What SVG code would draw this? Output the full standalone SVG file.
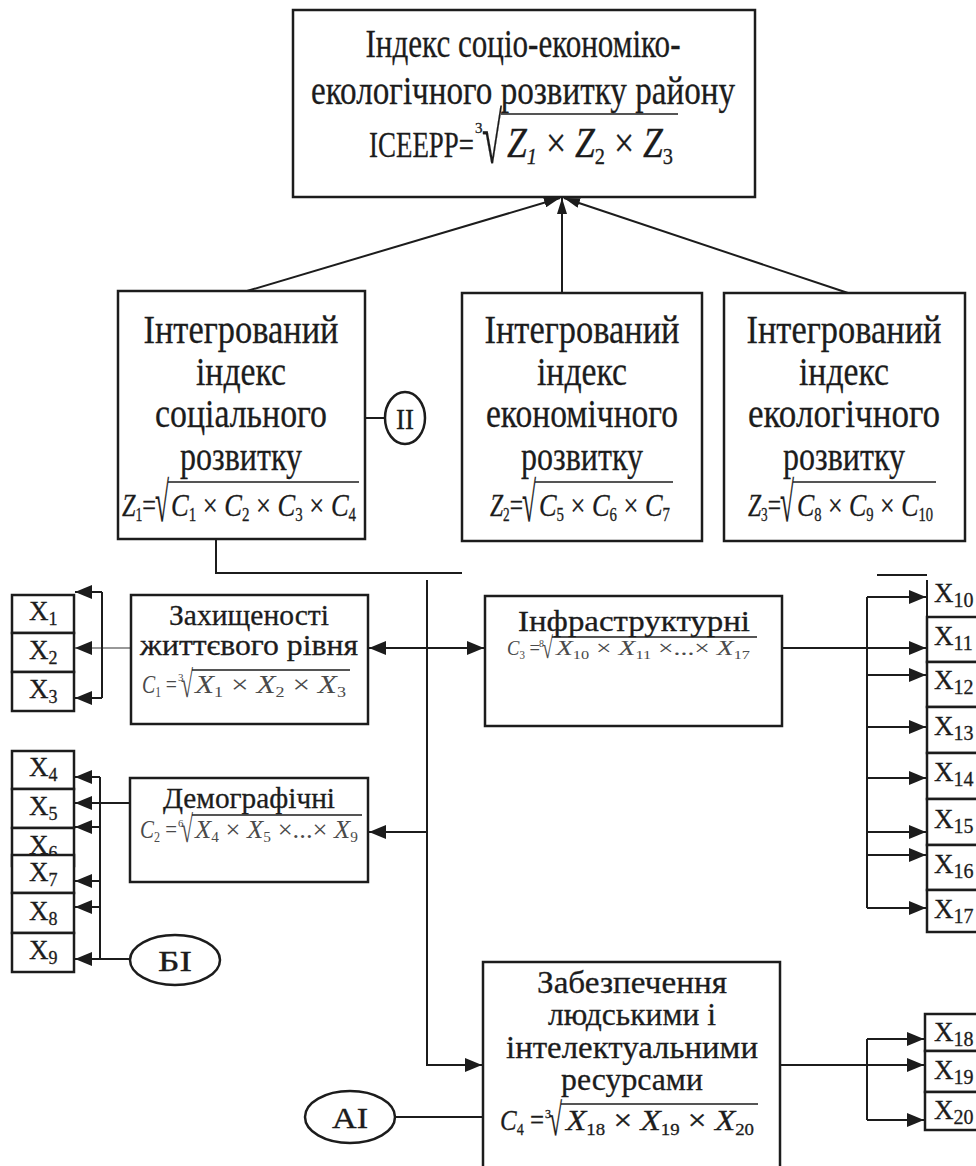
<svg xmlns="http://www.w3.org/2000/svg" width="976" height="1166" viewBox="0 0 976 1166">
<defs>
<marker id="a" viewBox="0 0 17 14" refX="17" refY="7" markerWidth="17" markerHeight="14" markerUnits="userSpaceOnUse" orient="auto-start-reverse"><path d="M0,0 L17,7 L0,14 Z" fill="#1c1c1c"/></marker>
<marker id="at" viewBox="0 0 16 10" refX="16" refY="5" markerWidth="16" markerHeight="10" markerUnits="userSpaceOnUse" orient="auto"><path d="M0,0 L16,5 L0,10 Z" fill="#1c1c1c"/></marker>
</defs>
<style>
.bx{fill:#fff;stroke:#1c1c1c;stroke-width:2.5}
.ln{fill:none;stroke:#1c1c1c;stroke-width:2}
.tn{fill:none;stroke:#333;stroke-width:1.2}
.vb{stroke:#1c1c1c;stroke-width:1.5}
.t{font-family:"Liberation Serif","Times New Roman",serif;fill:#1c1c1c;stroke:#1c1c1c;stroke-width:0.3}
.h{font-size:40px;text-anchor:middle}
.s{font-size:30px;text-anchor:middle}
.i{font-style:italic}
.xl{font-size:27px}
.g{fill:#4a4a4a;stroke:none}
</style>
<rect width="976" height="1166" fill="#fff"/>

<g id="connectors">
<line class="ln" x1="247" y1="291" x2="560" y2="198" marker-end="url(#at)"/>
<line class="ln" x1="562" y1="293" x2="562" y2="198" marker-end="url(#at)"/>
<line class="ln" x1="848" y1="293" x2="564" y2="198" marker-end="url(#at)"/>
<line class="ln" x1="365" y1="418" x2="385" y2="418"/>
<polyline class="ln" points="216,539 216,573 462,573"/>
<polyline class="ln" points="427,580 427,1065 482,1065" marker-end="url(#a)"/>
<line class="ln" x1="369" y1="648" x2="484" y2="648" marker-start="url(#a)" marker-end="url(#a)"/>
<line class="ln" x1="427" y1="832" x2="369" y2="832" marker-end="url(#a)"/>
<line class="tn" x1="131" y1="648" x2="75" y2="648" marker-end="url(#a)"/>
<line class="ln" x1="102" y1="592" x2="102" y2="698"/>
<line class="ln" x1="102" y1="592" x2="75" y2="592" marker-end="url(#a)"/>
<line class="ln" x1="102" y1="698" x2="75" y2="698" marker-end="url(#a)"/>
<line class="ln" x1="100" y1="777" x2="100" y2="959"/>
<line class="ln" x1="100" y1="777" x2="75" y2="777" marker-end="url(#a)"/>
<line class="ln" x1="130" y1="803" x2="75" y2="803" marker-end="url(#a)"/>
<line class="ln" x1="100" y1="827" x2="75" y2="827" marker-end="url(#a)"/>
<line class="ln" x1="100" y1="881" x2="75" y2="881" marker-end="url(#a)"/>
<line class="ln" x1="100" y1="907" x2="75" y2="907" marker-end="url(#a)"/>
<line class="ln" x1="130" y1="959" x2="75" y2="959" marker-end="url(#a)"/>
<line class="ln" x1="782" y1="648" x2="926" y2="648" marker-end="url(#a)"/>
<line class="ln" x1="867" y1="597" x2="867" y2="908"/>
<line class="ln" x1="867" y1="597" x2="926" y2="597" marker-end="url(#a)"/>
<line class="ln" x1="867" y1="675" x2="926" y2="675" marker-end="url(#a)"/>
<line class="ln" x1="867" y1="727" x2="926" y2="727" marker-end="url(#a)"/>
<line class="ln" x1="867" y1="778" x2="926" y2="778" marker-end="url(#a)"/>
<line class="ln" x1="867" y1="832" x2="926" y2="832" marker-end="url(#a)"/>
<line class="ln" x1="867" y1="855" x2="926" y2="855" marker-end="url(#a)"/>
<line class="ln" x1="867" y1="908" x2="926" y2="908" marker-end="url(#a)"/>
<line class="ln" x1="780" y1="1065" x2="924" y2="1065" marker-end="url(#a)"/>
<line class="ln" x1="867" y1="1039" x2="867" y2="1120"/>
<line class="ln" x1="867" y1="1039" x2="924" y2="1039" marker-end="url(#a)"/>
<line class="ln" x1="867" y1="1120" x2="924" y2="1120" marker-end="url(#a)"/>
<line class="ln" x1="395" y1="1117" x2="483" y2="1117"/>
</g>

<g id="top">
<rect class="bx" x="293" y="10" width="462" height="187"/>
<text class="t h" x="523" y="57" textLength="315" lengthAdjust="spacingAndGlyphs">Індекс соціо-економіко-</text>
<text class="t h" x="523" y="104" textLength="424" lengthAdjust="spacingAndGlyphs">екологічного розвитку району</text>
<text class="t" x="369" y="157" font-size="36" textLength="105" lengthAdjust="spacingAndGlyphs">ІСЕЕРР=</text>
<text class="t" x="475" y="133" font-size="15">3</text>
<text class="t" x="482" y="163" font-size="72" textLength="20" lengthAdjust="spacingAndGlyphs">√</text>
<line class="vb" x1="501" y1="114" x2="678" y2="114"/>
<text class="t" x="507" y="157" font-size="42" textLength="166" lengthAdjust="spacingAndGlyphs"><tspan class="i">Z</tspan><tspan class="i" font-size="24" dy="7">1</tspan><tspan dy="-7"> × </tspan><tspan class="i">Z</tspan><tspan font-size="24" dy="7">2</tspan><tspan dy="-7"> × </tspan><tspan class="i">Z</tspan><tspan font-size="24" dy="7">3</tspan></text>
</g>

<g id="z1">
<rect class="bx" x="118" y="291" width="247" height="248"/>
<text class="t h" x="241" y="343" textLength="195" lengthAdjust="spacingAndGlyphs">Інтегрований</text>
<text class="t h" x="241" y="385" textLength="90" lengthAdjust="spacingAndGlyphs">індекс</text>
<text class="t h" x="241" y="427" textLength="172" lengthAdjust="spacingAndGlyphs">соціального</text>
<text class="t h" x="241" y="470" textLength="122" lengthAdjust="spacingAndGlyphs">розвитку</text>
<text class="t" x="122" y="516" font-size="32" textLength="34" lengthAdjust="spacingAndGlyphs"><tspan class="i">Z</tspan><tspan font-size="18" dy="5">1</tspan><tspan dy="-5">=</tspan></text>
<text class="t" x="155" y="521" font-size="56" textLength="14" lengthAdjust="spacingAndGlyphs">√</text>
<line class="vb" x1="168" y1="482" x2="359" y2="482"/>
<text class="t" x="171" y="516" font-size="32" textLength="185" lengthAdjust="spacingAndGlyphs"><tspan class="i">C</tspan><tspan font-size="18" dy="5">1</tspan><tspan dy="-5"> × </tspan><tspan class="i">C</tspan><tspan font-size="18" dy="5">2</tspan><tspan dy="-5"> × </tspan><tspan class="i">C</tspan><tspan font-size="18" dy="5">3</tspan><tspan dy="-5"> × </tspan><tspan class="i">C</tspan><tspan font-size="18" dy="5">4</tspan></text>
</g>

<g id="ii">
<ellipse class="bx" cx="405" cy="418" rx="20" ry="26" stroke-width="2"/>
<text class="t s" x="405" y="429" textLength="18" lengthAdjust="spacingAndGlyphs">ІІ</text>
</g>

<g id="z2">
<rect class="bx" x="462" y="293" width="240" height="248"/>
<text class="t h" x="582" y="343" textLength="195" lengthAdjust="spacingAndGlyphs">Інтегрований</text>
<text class="t h" x="582" y="385" textLength="90" lengthAdjust="spacingAndGlyphs">індекс</text>
<text class="t h" x="582" y="427" textLength="192" lengthAdjust="spacingAndGlyphs">економічного</text>
<text class="t h" x="582" y="470" textLength="122" lengthAdjust="spacingAndGlyphs">розвитку</text>
<text class="t" x="490" y="516" font-size="32" textLength="33" lengthAdjust="spacingAndGlyphs"><tspan class="i">Z</tspan><tspan font-size="18" dy="5">2</tspan><tspan dy="-5">=</tspan></text>
<text class="t" x="522" y="521" font-size="56" textLength="14" lengthAdjust="spacingAndGlyphs">√</text>
<line class="vb" x1="535" y1="482" x2="673" y2="482"/>
<text class="t" x="539" y="516" font-size="32" textLength="131" lengthAdjust="spacingAndGlyphs"><tspan class="i">C</tspan><tspan font-size="18" dy="5">5</tspan><tspan dy="-5"> × </tspan><tspan class="i">C</tspan><tspan font-size="18" dy="5">6</tspan><tspan dy="-5"> × </tspan><tspan class="i">C</tspan><tspan font-size="18" dy="5">7</tspan></text>
</g>

<g id="z3">
<rect class="bx" x="724" y="293" width="241" height="248"/>
<text class="t h" x="844" y="343" textLength="195" lengthAdjust="spacingAndGlyphs">Інтегрований</text>
<text class="t h" x="844" y="385" textLength="90" lengthAdjust="spacingAndGlyphs">індекс</text>
<text class="t h" x="844" y="427" textLength="192" lengthAdjust="spacingAndGlyphs">екологічного</text>
<text class="t h" x="844" y="470" textLength="122" lengthAdjust="spacingAndGlyphs">розвитку</text>
<text class="t" x="748" y="516" font-size="32" textLength="33" lengthAdjust="spacingAndGlyphs"><tspan class="i">Z</tspan><tspan font-size="18" dy="5">3</tspan><tspan dy="-5">=</tspan></text>
<text class="t" x="780" y="521" font-size="56" textLength="14" lengthAdjust="spacingAndGlyphs">√</text>
<line class="vb" x1="793" y1="482" x2="936" y2="482"/>
<text class="t" x="797" y="516" font-size="32" textLength="136" lengthAdjust="spacingAndGlyphs"><tspan class="i">C</tspan><tspan font-size="18" dy="5">8</tspan><tspan dy="-5"> × </tspan><tspan class="i">C</tspan><tspan font-size="18" dy="5">9</tspan><tspan dy="-5"> × </tspan><tspan class="i">C</tspan><tspan font-size="18" dy="5">10</tspan></text>
</g>

<g id="c1">
<rect class="bx" x="131" y="595" width="237" height="129"/>
<text class="t s" x="249" y="625" textLength="160" lengthAdjust="spacingAndGlyphs">Захищеності</text>
<text class="t s" x="249" y="655" textLength="218" lengthAdjust="spacingAndGlyphs">життєвого рівня</text>
<text class="t g" x="142" y="693" font-size="26" textLength="35" lengthAdjust="spacingAndGlyphs"><tspan class="i">C</tspan><tspan font-size="15" dy="4">1</tspan><tspan dy="-4"> =</tspan></text>
<text class="t g" x="178" y="681" font-size="11">3</text>
<text class="t g" x="181" y="697" font-size="38" textLength="12" lengthAdjust="spacingAndGlyphs">√</text>
<line class="vb" x1="192" y1="670" x2="350" y2="670" stroke="#555"/>
<text class="t g" x="195" y="693" font-size="26" textLength="151" lengthAdjust="spacingAndGlyphs"><tspan class="i">X</tspan><tspan font-size="15" dy="4">1</tspan><tspan dy="-4"> × </tspan><tspan class="i">X</tspan><tspan font-size="15" dy="4">2</tspan><tspan dy="-4"> × </tspan><tspan class="i">X</tspan><tspan font-size="15" dy="4">3</tspan></text>
</g>

<g id="c2">
<rect class="bx" x="130" y="778" width="238" height="104"/>
<text class="t s" x="249" y="808" textLength="172" lengthAdjust="spacingAndGlyphs">Демографічні</text>
<text class="t g" x="140" y="838" font-size="26" textLength="37" lengthAdjust="spacingAndGlyphs"><tspan class="i">C</tspan><tspan font-size="15" dy="4">2</tspan><tspan dy="-4"> =</tspan></text>
<text class="t g" x="178" y="827" font-size="11">6</text>
<text class="t g" x="181" y="842" font-size="38" textLength="12" lengthAdjust="spacingAndGlyphs">√</text>
<line class="vb" x1="192" y1="815" x2="362" y2="815" stroke="#555"/>
<text class="t g" x="195" y="838" font-size="26" textLength="163" lengthAdjust="spacingAndGlyphs"><tspan class="i">X</tspan><tspan font-size="15" dy="4">4</tspan><tspan dy="-4"> × </tspan><tspan class="i">X</tspan><tspan font-size="15" dy="4">5</tspan><tspan dy="-4"> ×...× </tspan><tspan class="i">X</tspan><tspan font-size="15" dy="4">9</tspan></text>
</g>

<g id="c3">
<rect class="bx" x="485" y="596" width="297" height="130"/>
<text class="t s" x="634" y="631" textLength="232" lengthAdjust="spacingAndGlyphs">Інфраструктурні</text>
<text class="t g" x="507" y="655" font-size="22" textLength="33" lengthAdjust="spacingAndGlyphs"><tspan class="i">C</tspan><tspan font-size="13" dy="4">3</tspan><tspan dy="-4"> =</tspan></text>
<text class="t g" x="539" y="647" font-size="10">8</text>
<text class="t g" x="542" y="658" font-size="30" textLength="11" lengthAdjust="spacingAndGlyphs">√</text>
<line class="vb" x1="552" y1="637" x2="757" y2="637" stroke="#555"/>
<text class="t g" x="556" y="655" font-size="22" textLength="194" lengthAdjust="spacingAndGlyphs"><tspan class="i">X</tspan><tspan font-size="13" dy="4">10</tspan><tspan dy="-4"> × </tspan><tspan class="i">X</tspan><tspan font-size="13" dy="4">11</tspan><tspan dy="-4"> ×...× </tspan><tspan class="i">X</tspan><tspan font-size="13" dy="4">17</tspan></text>
</g>

<g id="c4">
<rect class="bx" x="483" y="962" width="297" height="230"/>
<text class="t" x="632" y="993" font-size="32" text-anchor="middle" textLength="190" lengthAdjust="spacingAndGlyphs">Забезпечення</text>
<text class="t" x="632" y="1025" font-size="32" text-anchor="middle" textLength="168" lengthAdjust="spacingAndGlyphs">людськими і</text>
<text class="t" x="632" y="1058" font-size="32" text-anchor="middle" textLength="252" lengthAdjust="spacingAndGlyphs">інтелектуальними</text>
<text class="t" x="632" y="1090" font-size="32" text-anchor="middle" textLength="142" lengthAdjust="spacingAndGlyphs">ресурсами</text>
<text class="t" x="500" y="1130" font-size="30" textLength="44" lengthAdjust="spacingAndGlyphs"><tspan class="i">C</tspan><tspan font-size="17" dy="5">4</tspan><tspan dy="-5"> =</tspan></text>
<text class="t" x="545" y="1118" font-size="12">3</text>
<text class="t" x="549" y="1135" font-size="45" textLength="13" lengthAdjust="spacingAndGlyphs">√</text>
<line class="vb" x1="561" y1="1104" x2="758" y2="1104"/>
<text class="t" x="566" y="1130" font-size="30" textLength="188" lengthAdjust="spacingAndGlyphs"><tspan class="i">X</tspan><tspan font-size="17" dy="5">18</tspan><tspan dy="-5"> × </tspan><tspan class="i">X</tspan><tspan font-size="17" dy="5">19</tspan><tspan dy="-5"> × </tspan><tspan class="i">X</tspan><tspan font-size="17" dy="5">20</tspan></text>
</g>

<g id="bi">
<ellipse class="bx" cx="175" cy="960" rx="45" ry="25" stroke-width="2"/>
<text class="t s" x="175" y="971" textLength="34" lengthAdjust="spacingAndGlyphs">БІ</text>
</g>
<g id="ai">
<ellipse class="bx" cx="350" cy="1117" rx="45" ry="26" stroke-width="2"/>
<text class="t s" x="350" y="1128" textLength="36" lengthAdjust="spacingAndGlyphs">АІ</text>
</g>

<g id="x1"><rect class="bx" x="12" y="595" width="62" height="38"/><text class="t xl" x="29" y="620">X<tspan font-size="18" dy="5">1</tspan></text></g>
<g id="x2"><rect class="bx" x="12" y="633" width="62" height="39"/><text class="t xl" x="29" y="659">X<tspan font-size="18" dy="5">2</tspan></text></g>
<g id="x3"><rect class="bx" x="12" y="672" width="62" height="39"/><text class="t xl" x="29" y="698">X<tspan font-size="18" dy="5">3</tspan></text></g>
<g id="x4"><rect class="bx" x="12" y="751" width="62" height="38"/><text class="t xl" x="29" y="776">X<tspan font-size="18" dy="5">4</tspan></text></g>
<g id="x5"><rect class="bx" x="12" y="789" width="62" height="39"/><text class="t xl" x="29" y="815">X<tspan font-size="18" dy="5">5</tspan></text></g>
<g id="x6"><rect class="bx" x="12" y="828" width="62" height="38"/><text class="t xl" x="29" y="854">X<tspan font-size="18" dy="5">6</tspan></text></g>
<g id="x7"><rect class="bx" x="12" y="855" width="62" height="38"/><text class="t xl" x="29" y="881">X<tspan font-size="18" dy="5">7</tspan></text></g>
<g id="x8"><rect class="bx" x="12" y="893" width="62" height="40"/><text class="t xl" x="29" y="920">X<tspan font-size="18" dy="5">8</tspan></text></g>
<g id="x9"><rect class="bx" x="12" y="933" width="62" height="39"/><text class="t xl" x="29" y="959">X<tspan font-size="18" dy="5">9</tspan></text></g>

<g id="x10"><line class="ln" x1="877" y1="575" x2="927" y2="575" stroke-width="4"/><path class="ln" d="M927,580 V617" stroke-width="2.5"/><text class="t xl" x="934" y="602">X<tspan font-size="20" dy="5">10</tspan></text></g>
<g id="x11"><rect class="bx" x="927" y="617" width="80" height="45"/><text class="t xl" x="934" y="645">X<tspan font-size="20" dy="5">11</tspan></text></g>
<g id="x12"><rect class="bx" x="927" y="662" width="80" height="45"/><text class="t xl" x="934" y="689">X<tspan font-size="20" dy="5">12</tspan></text></g>
<g id="x13"><rect class="bx" x="927" y="707" width="80" height="46"/><text class="t xl" x="934" y="735">X<tspan font-size="20" dy="5">13</tspan></text></g>
<g id="x14"><rect class="bx" x="927" y="753" width="80" height="46"/><text class="t xl" x="934" y="781">X<tspan font-size="20" dy="5">14</tspan></text></g>
<g id="x15"><rect class="bx" x="927" y="799" width="80" height="46"/><text class="t xl" x="934" y="828">X<tspan font-size="20" dy="5">15</tspan></text></g>
<g id="x16"><rect class="bx" x="927" y="845" width="80" height="45"/><text class="t xl" x="934" y="873">X<tspan font-size="20" dy="5">16</tspan></text></g>
<g id="x17"><rect class="bx" x="927" y="890" width="80" height="42"/><text class="t xl" x="934" y="918">X<tspan font-size="20" dy="5">17</tspan></text></g>
<g id="x18"><rect class="bx" x="925" y="1014" width="80" height="37"/><text class="t xl" x="934" y="1041">X<tspan font-size="20" dy="5">18</tspan></text></g>
<g id="x19"><rect class="bx" x="925" y="1051" width="80" height="41"/><text class="t xl" x="934" y="1079">X<tspan font-size="20" dy="5">19</tspan></text></g>
<g id="x20"><rect class="bx" x="925" y="1092" width="80" height="38"/><text class="t xl" x="934" y="1119">X<tspan font-size="20" dy="5">20</tspan></text></g>
</svg>
